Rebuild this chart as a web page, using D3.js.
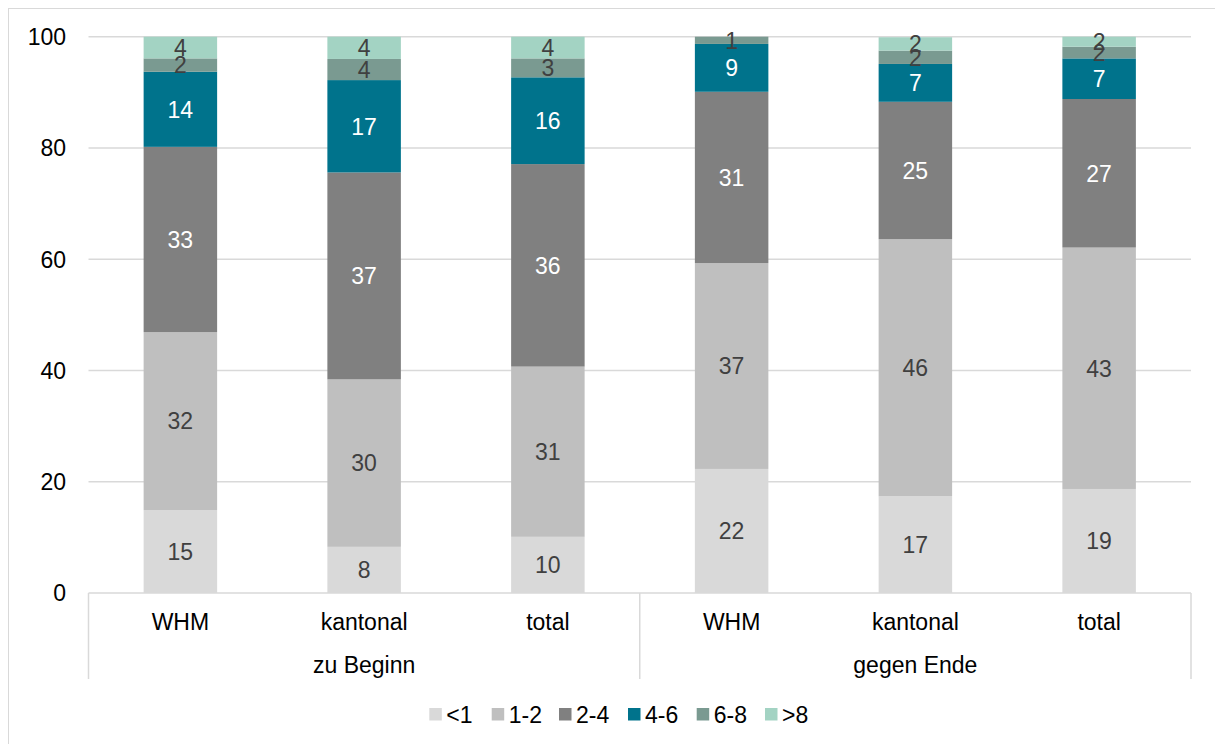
<!DOCTYPE html>
<html>
<head>
<meta charset="utf-8">
<script src="https://cdn.jsdelivr.net/npm/d3@7"></script>
<style>
  html, body { margin: 0; padding: 0; background: #fff; }
  svg { display: block; }
  text { font-family: "Liberation Sans", Arial, sans-serif; }
</style>
</head>
<body>
<svg id="chart" width="1215" height="744"></svg>
<script>
// ---- data ----
const groups = ["zu Beginn", "gegen Ende"];
const categories = ["WHM", "kantonal", "total", "WHM", "kantonal", "total"];
const seriesNames = ["<1", "1-2", "2-4", "4-6", "6-8", ">8"];
const seriesColors = ["#d9d9d9", "#bfbfbf", "#808080", "#00738c", "#7a9a91", "#a3d3c3"];
const labelColors = ["#404040", "#404040", "#ffffff", "#ffffff", "#404040", "#404040"];
const valLt1  = [14.9,  8.3, 10.1, 22.3, 17.4, 18.7];
const val1to2 = [32.0, 30.1, 30.6, 37.0, 46.2, 43.4];
const val2to4 = [33.3, 37.2, 36.4, 30.8, 24.7, 26.7];
const val4to6 = [13.5, 16.6, 15.6,  8.6,  6.8,  7.3];
const val6to8 = [ 2.4,  3.8,  3.4,  1.3,  2.4,  2.1];
const valGt8  = [ 3.9,  4.0,  3.9,  0.0,  2.4,  1.8];
const yTicks = [0, 20, 40, 60, 80, 100];

// ---- build table ----
const seriesValues = [valLt1, val1to2, val2to4, val4to6, val6to8, valGt8];
const table = categories.map((c, i) => {
  const row = { idx: i };
  seriesNames.forEach((s, k) => row[s] = seriesValues[k][i]);
  return row;
});
const stack = d3.stack().keys(seriesNames)(table);

const svg = d3.select("#chart");
const plotLeft = 88.5, plotRight = 1191, plotTop = 36.7, plotBottom = 593;
const FS = 23, BASE = 8.3;

// chart border
svg.append("rect").attr("x", 8.5).attr("y", 8.5).attr("width", 1230).attr("height", 760)
  .attr("fill", "none").attr("stroke", "#d9d9d9").attr("stroke-width", 1);

const x = d3.scaleBand().domain(d3.range(categories.length)).range([plotLeft, plotRight])
  .paddingInner(0.6).paddingOuter(0.3);
const y = d3.scaleLinear().domain([0, 100]).range([plotBottom, plotTop]);
const band = (plotRight - plotLeft) / categories.length;

// gridlines
svg.append("g").selectAll("line").data(yTicks).join("line")
  .attr("x1", plotLeft).attr("x2", plotRight)
  .attr("y1", d => y(d)).attr("y2", d => y(d))
  .attr("stroke", "#d9d9d9").attr("stroke-width", 1.5);

// y axis labels
svg.append("g").selectAll("text").data(yTicks).join("text")
  .attr("x", 66).attr("y", d => y(d) + BASE)
  .attr("text-anchor", "end").attr("font-size", FS).attr("fill", "#000")
  .text(d => d);

// bars
const layers = svg.append("g").selectAll("g").data(stack).join("g")
  .attr("fill", (d, k) => seriesColors[k]);
layers.selectAll("rect").data(d => d).join("rect")
  .attr("x", (d, i) => x(i))
  .attr("width", x.bandwidth())
  .attr("y", d => y(d[1]))
  .attr("height", d => y(d[0]) - y(d[1]));

// data labels
const lbl = svg.append("g");
stack.forEach((layer, k) => {
  layer.forEach((d, i) => {
    const v = d[1] - d[0];
    if (v <= 0.05) return;
    lbl.append("text")
      .attr("x", x(i) + x.bandwidth() / 2)
      .attr("y", (y(d[0]) + y(d[1])) / 2 + BASE)
      .attr("text-anchor", "middle").attr("font-size", FS)
      .attr("fill", labelColors[k])
      .text(Math.round(v));
  });
});

// category axis separators
const sepX = [plotLeft, plotLeft + band * 3, plotRight];
svg.append("g").selectAll("line").data(sepX).join("line")
  .attr("x1", d => d).attr("x2", d => d)
  .attr("y1", plotBottom).attr("y2", 679)
  .attr("stroke", "#d9d9d9").attr("stroke-width", 1.5);

// category labels
svg.append("g").selectAll("text").data(categories).join("text")
  .attr("x", (d, i) => x(i) + x.bandwidth() / 2).attr("y", 629.5)
  .attr("text-anchor", "middle").attr("font-size", FS).attr("fill", "#000")
  .text(d => d);

// group labels
svg.append("g").selectAll("text").data(groups).join("text")
  .attr("x", (d, g) => plotLeft + band * 3 * g + band * 1.5).attr("y", 673)
  .attr("text-anchor", "middle").attr("font-size", FS).attr("fill", "#000")
  .text(d => d);

// legend
const legendX = [429.3, 491.7, 559, 628, 696.7, 765];
const leg = svg.append("g").selectAll("g").data(seriesNames).join("g")
  .attr("transform", (d, k) => `translate(${legendX[k]},708)`);
leg.append("rect").attr("width", 12.5).attr("height", 12.5)
  .attr("fill", (d, k) => seriesColors[k]);
leg.append("text").attr("x", 17).attr("y", 14.5)
  .attr("font-size", FS).attr("fill", "#000").text(d => d);
</script>
</body>
</html>
